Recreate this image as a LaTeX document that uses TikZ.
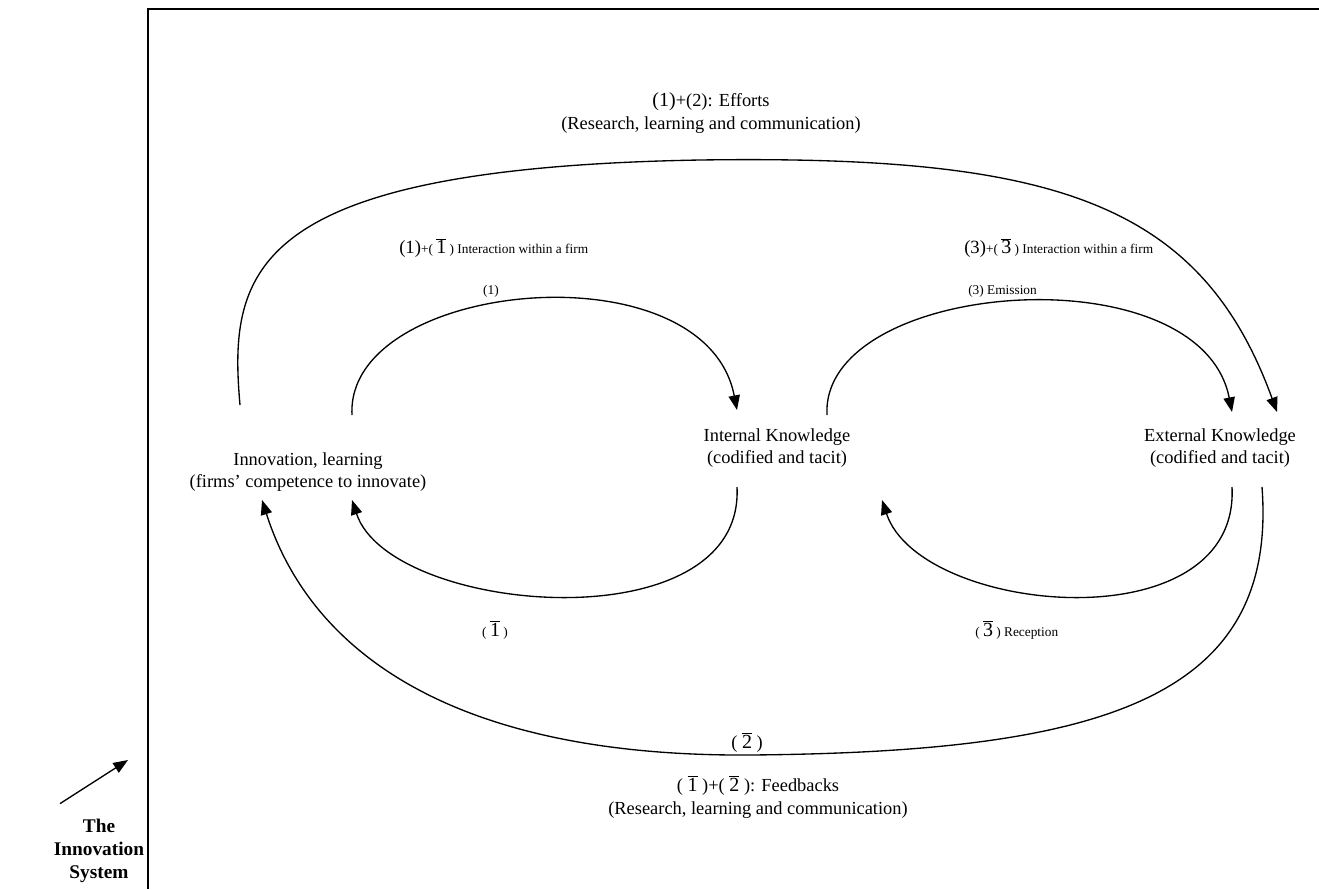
\documentclass[tikz,border=0pt]{standalone}
\usepackage{fontspec}
\setmainfont{Liberation Serif}
\usetikzlibrary{arrows.meta,calc}

\tikzset{
  flow/.style={line width=1pt,-{Triangle[length=11pt,width=8.5pt]}},
  knode/.style={align=center,inner sep=0.75pt,font=\fontsize{13.8}{17}\selectfont},
  smalltxt/.style={inner sep=0.75pt,font=\fontsize{10}{12}\selectfont},
  bigtxt/.style={align=center,inner sep=0.75pt,font=\fontsize{13.8}{17}\selectfont}
}
\newcommand{\barnum}[1]{$\overline{\hbox{\fontsize{15}{15}\selectfont #1}}$}

\begin{document}
\begin{tikzpicture}[x=0.75pt,y=0.75pt,yscale=-1,xscale=1]
\useasboundingbox (0,0) rectangle (1319,889);

%Frame of the system
\draw [line width=1.2pt]  (148,889) -- (148,9) -- (1319,9) ;

% Text Node
\node [knode] (innov) at (308,472) {Innovation, learning\\(firms’ competence to innovate)};
% Text Node
\node [knode] (intk) at (777,448) {Internal Knowledge\\(codified and tacit)};
% Text Node
\node [knode] (extk) at (1220,448) {External Knowledge\\(codified and tacit)};

% Text Node
\node [bigtxt] (efforts) at (711,113) {{\fontsize{15}{15}\selectfont(1)}+(2): Efforts\\(Research, learning and communication)};
% Text Node
\node [smalltxt,anchor=west] (inter1) at (398,248) {{\fontsize{14}{14}\selectfont(1)}+( \barnum{1} ) Interaction within a firm};
% Text Node
\node [smalltxt,anchor=west] (inter3) at (963,248) {{\fontsize{14}{14}\selectfont(3)}+( \barnum{3} ) Interaction within a firm};
% Text Node
\node [smalltxt] (lab1) at (491,291) {(1)};
% Text Node
\node [smalltxt,anchor=west] (emis) at (967,291) {(3) Emission};
% Text Node
\node [smalltxt] (lab1b) at (495,630) {( \barnum{1} )};
% Text Node
\node [smalltxt,anchor=west] (recep) at (974,630) {( \barnum{3} ) Reception};
% Text Node
\node [bigtxt] (lab2b) at (747,742) {( \barnum{2} )};
% Text Node
\node [bigtxt] (feedb) at (758,797) {( \barnum{1} )+( \barnum{2} ): Feedbacks\\(Research, learning and communication)};
% Text Node
\node [align=center,inner sep=0.75pt,font=\fontsize{14.5}{17.5}\selectfont\bfseries] (sysname) at (99,851) {The\\Innovation\\System};

%Efforts curve
\draw [flow] ($(innov)+(-68,-67)$) .. controls (228,270) and (250,168) .. (700,160) .. controls (1050,155) and (1200,200) .. ($(extk)+(57,-36)$) ;
%Loop (1)
\draw [flow] ($(innov)+(44,-57)$) .. controls (345,280) and (705,245) .. ($(intk)+(-40,-38)$) ;
%Loop (1 bar)
\draw [flow] ($(intk)+(-40,39)$) .. controls (745,645) and (390,615) .. ($(innov)+(44,28)$) ;
%Loop (3)
\draw [flow] ($(intk)+(50,-33)$) .. controls (820,280) and (1200,250) .. ($(extk)+(12,-36)$) ;
%Loop (3 bar)
\draw [flow] ($(extk)+(12,39)$) .. controls (1240,645) and (920,615) .. ($(intk)+(105,52)$) ;
%Feedbacks curve
\draw [flow] ($(extk)+(42,39)$) .. controls (1278,700) and (1100,752) .. (750,755) .. controls (450,757) and (310,650) .. ($(innov)+(-46,28)$) ;
%Pointer to the frame
\draw [flow] ($(sysname.north)+(-39,-14)$) -- (128,760) ;

\end{tikzpicture}
\end{document}
